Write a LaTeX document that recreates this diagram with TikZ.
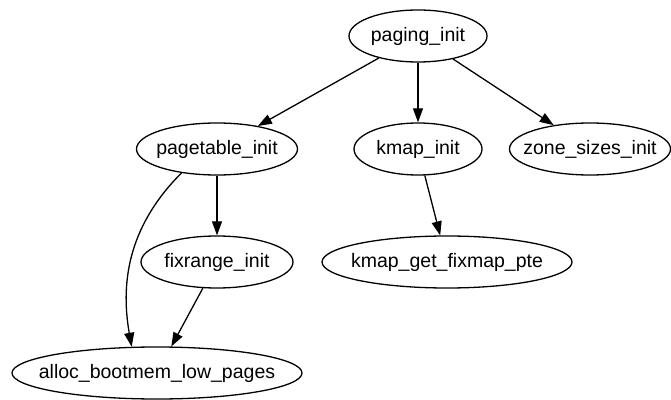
\documentclass[tikz,border=0pt]{standalone}
\usepackage{fontspec}
\setmainfont{Liberation Sans}
\usetikzlibrary{arrows.meta,shapes.geometric}
\definecolor{ink}{HTML}{000000}
\definecolor{paper}{HTML}{FFFFFF}
\tikzset{
  x=1pt,
  y=1pt,
  font=\fontsize{19.5}{22}\selectfont
}

\begin{document}
\begin{tikzpicture}[
  %===========================================================
  % Function nodes
  %===========================================================
  func/.style={
    ellipse,
    draw=ink,
    line width=1.3pt,
    fill=paper,
    text=ink,
    inner xsep=-120pt,
    inner ysep=0pt,
    minimum height=52pt
  },
  %===========================================================
  % Calls
  %===========================================================
  call/.style={
    -{Triangle[length=14pt,width=10pt]},
    draw=ink,
    line width=1.3pt
  }
]
  \useasboundingbox[fill=paper] (0,0) rectangle (671,399);

  %====================================================================
  % Call graph, top to bottom.
  %====================================================================
  \node[func, minimum width=138pt] (paging)    at (418, 363) {paging\_init};

  \node[func, minimum width=161pt] (pagetable) at (217, 250) {pagetable\_init};
  \node[func, minimum width=128pt] (kmap)      at (418, 250) {kmap\_init};
  \node[func, minimum width=161pt] (zone)      at (590, 250) {zone\_sizes\_init};

  \node[func, minimum width=152pt] (fixrange)  at (217, 137) {fixrange\_init};
  \node[func, minimum width=250pt] (fixmap)    at (447, 137) {kmap\_get\_fixmap\_pte};

  \node[func, minimum width=290pt] (alloc)     at (157,  26) {alloc\_bootmem\_low\_pages};

  %====================================================================
  % Edges
  %====================================================================
  \draw[call] (paging)    -- (pagetable);
  \draw[call] (paging)    -- (kmap);
  \draw[call] (paging)    -- (zone);
  \draw[call] (pagetable) -- (fixrange);
  \draw[call] (kmap)      -- (fixmap);
  \draw[call] (fixrange)  -- (alloc);

  % direct call skips fixrange_init, bends round it on the left
  \draw[call] (pagetable.-146) to[out=-135, in=100, looseness=1.0] (alloc.134);

\end{tikzpicture}
\end{document}
